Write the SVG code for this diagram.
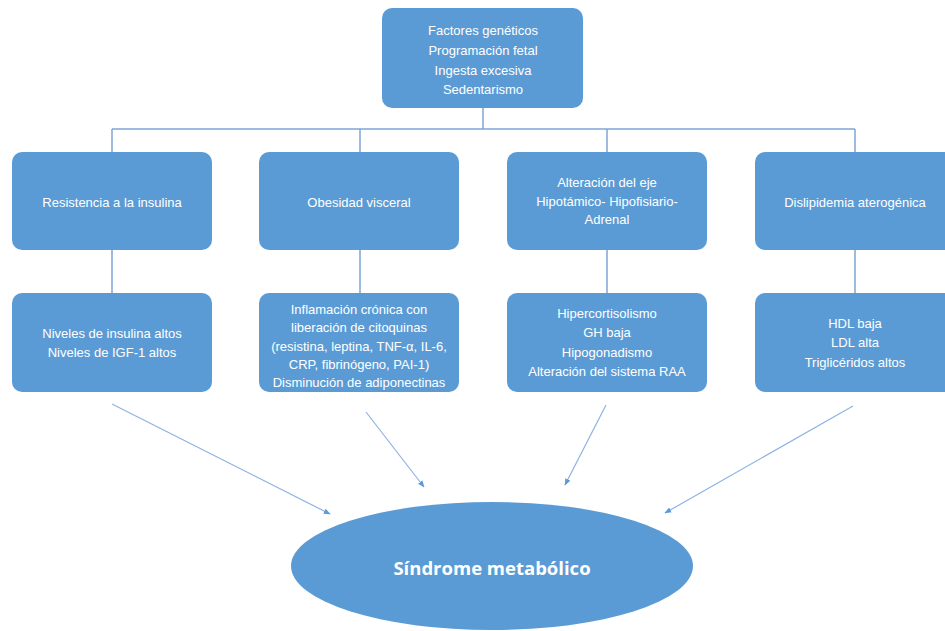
<svg xmlns="http://www.w3.org/2000/svg" width="945" height="631" viewBox="0 0 945 631">
<defs>
<style>
.box{fill:#5B9BD5;}
.t{fill:#ffffff;font-family:"Liberation Sans","Open Sans",sans-serif;font-size:13px;text-anchor:middle;}
.tb{fill:#ffffff;font-family:"Open Sans","Liberation Sans",sans-serif;font-size:18.5px;font-weight:bold;text-anchor:middle;}
.ln{fill:none;stroke:#7EA6D6;stroke-width:1.5;}
.ar{fill:none;stroke:#8DB3E2;stroke-width:1.2;marker-end:url(#ah);}
</style>
<marker id="ah" viewBox="0 0 10 10" refX="9" refY="5" markerWidth="7" markerHeight="7" orient="auto" markerUnits="userSpaceOnUse">
<path d="M0,1 L10,5 L0,9 z" fill="#5B9BD5"/>
</marker>
</defs>
<rect width="945" height="631" fill="#ffffff"/>
<g id="connectors">
<path class="ln" d="M483,108 V129 M112,129 H855 M112,129 V152 M360,129 V152 M607,129 V152 M855,129 V152"/>
<path class="ln" d="M112,250 V293 M360,250 V293 M607,250 V293 M855,250 V293"/>
<path class="ar" d="M112,404 L330,514"/>
<path class="ar" d="M366,412 L424,487"/>
<path class="ar" d="M606,405 L565,485"/>
<path class="ar" d="M853,406 L665,513"/>
</g>
<g id="n0">
<rect class="box" x="382" y="8" width="201" height="100" rx="10"/>
<text class="t" x="483" y="35">Factores genéticos</text>
<text class="t" x="483" y="55">Programación fetal</text>
<text class="t" x="483" y="75">Ingesta excesiva</text>
<text class="t" x="483" y="94">Sedentarismo</text>
</g>
<g id="n1">
<rect class="box" x="12" y="152" width="200" height="98" rx="10"/>
<text class="t" x="112" y="207">Resistencia a la insulina</text>
</g>
<g id="n2">
<rect class="box" x="259" y="152" width="200" height="98" rx="10"/>
<text class="t" x="359" y="207">Obesidad visceral</text>
</g>
<g id="n3">
<rect class="box" x="507" y="152" width="200" height="98" rx="10"/>
<text class="t" x="607" y="187">Alteración del eje</text>
<text class="t" x="607" y="206">Hipotámico- Hipofisiario-</text>
<text class="t" x="607" y="224">Adrenal</text>
</g>
<g id="n4">
<rect class="box" x="755" y="152" width="200" height="98" rx="10"/>
<text class="t" x="855" y="207">Dislipidemia aterogénica</text>
</g>
<g id="n5">
<rect class="box" x="12" y="293" width="200" height="99" rx="10"/>
<text class="t" x="112" y="338">Niveles de insulina altos</text>
<text class="t" x="112" y="357">Niveles de IGF-1 altos</text>
</g>
<g id="n6">
<rect class="box" x="259" y="293" width="200" height="99" rx="10"/>
<text class="t" x="359" y="314">Inflamación crónica con</text>
<text class="t" x="359" y="332">liberación de citoquinas</text>
<text class="t" x="359" y="351">(resistina, leptina, TNF-α, IL-6,</text>
<text class="t" x="359" y="369">CRP, fibrinógeno, PAI-1)</text>
<text class="t" x="359" y="387">Disminución de adiponectinas</text>
</g>
<g id="n7">
<rect class="box" x="507" y="293" width="200" height="99" rx="10"/>
<text class="t" x="607" y="318">Hipercortisolismo</text>
<text class="t" x="607" y="337">GH baja</text>
<text class="t" x="607" y="357">Hipogonadismo</text>
<text class="t" x="607" y="376">Alteración del sistema RAA</text>
</g>
<g id="n8">
<rect class="box" x="755" y="293" width="200" height="99" rx="10"/>
<text class="t" x="855" y="328">HDL baja</text>
<text class="t" x="855" y="347">LDL alta</text>
<text class="t" x="855" y="367">Triglicéridos altos</text>
</g>
<g id="n9">
<ellipse class="box" cx="492" cy="566" rx="201" ry="64"/>
<text class="tb" x="492" y="575">Síndrome metabólico</text>
</g>
</svg>
